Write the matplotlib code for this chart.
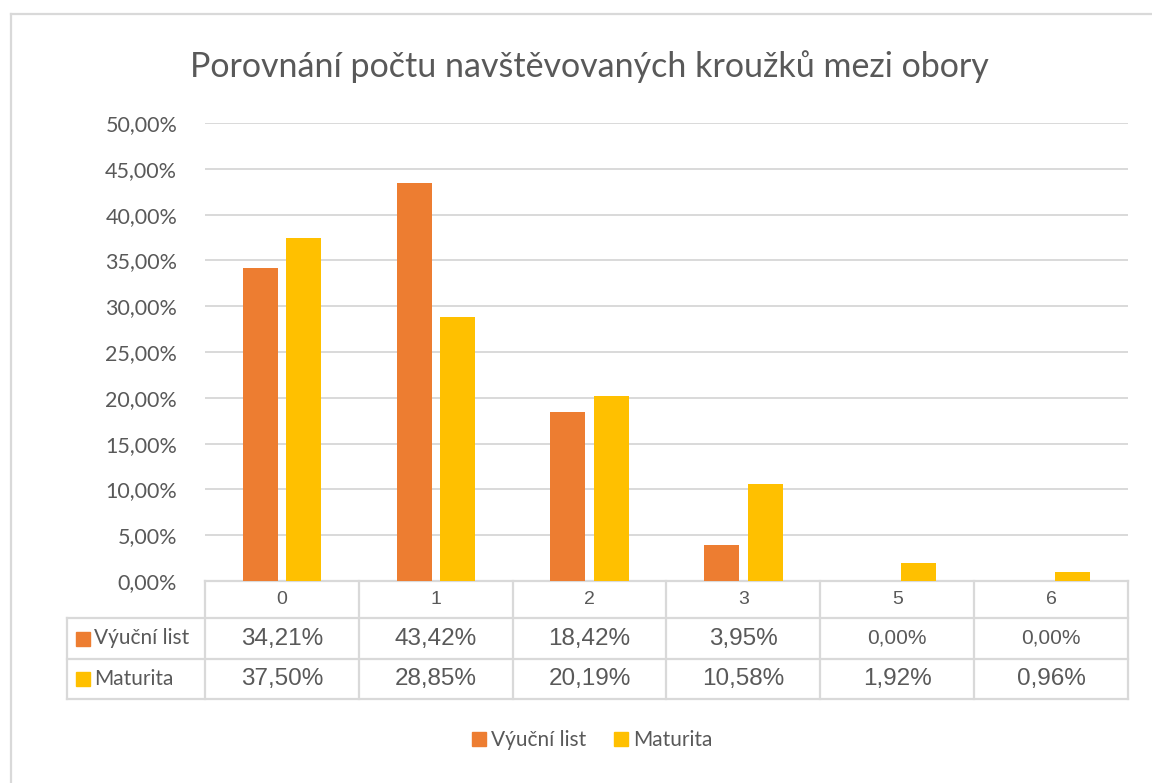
import matplotlib
matplotlib.use("Agg")
import matplotlib.pyplot as plt
from matplotlib.transforms import blended_transform_factory
from matplotlib.lines import Line2D

# data
categories = ["0", "1", "2", "3", "5", "6"]
vyucni = [34.21, 43.42, 18.42, 3.95, 0.00, 0.00]
maturita = [37.50, 28.85, 20.19, 10.58, 1.92, 0.96]
series_names = ["Výuční list", "Maturita"]

orange = "#ED7D31"
yellow = "#FFC000"
grey_txt = "#595959"
grid_col = "#D9D9D9"

W, H = 1152, 783
fig = plt.figure(figsize=(W / 100, H / 100), dpi=100)

def fy(py):
    return 1 - py / H

# plot area in pixels: x 205..1128, y 123..581
ax = fig.add_axes([205 / W, fy(581), (1128 - 205) / W, (581 - 123) / H])

x = list(range(len(categories)))
bw = 0.227
off = 0.141
ax.bar([i - off for i in x], vyucni, width=bw, color=orange, zorder=3)
ax.bar([i + off for i in x], maturita, width=bw, color=yellow, zorder=3)

ax.set_xlim(-0.5, len(categories) - 0.5)
ax.set_ylim(0, 50)
yt = list(range(0, 55, 5))
ax.set_yticks(yt)
ax.set_yticklabels(["%d,00%%" % v for v in yt], fontname="Lato", fontsize=15.5, color=grey_txt)
ax.tick_params(axis="y", length=0, pad=20)
ax.set_xticks([])
for s in ax.spines.values():
    s.set_visible(False)
for v in yt[1:]:
    ax.axhline(v, color=grid_col, lw=1.4, zorder=1)

# data table below the axis
tr = blended_transform_factory(ax.transData, fig.transFigure)
px_per_unit = (1128 - 205) / len(categories)
left_edge = -0.5 - (205 - 67) / px_per_unit
right_edge = len(categories) - 0.5
rows_y = [581, 618, 659, 699]

line_kw = dict(color=grid_col, lw=1.6, transform=tr, clip_on=False, zorder=2)
ax.plot([-0.5, right_edge], [fy(581), fy(581)], **line_kw)
for yy in rows_y[1:]:
    ax.plot([left_edge, right_edge], [fy(yy), fy(yy)], **line_kw)
for i in range(len(categories) + 1):
    xv = i - 0.5
    ax.plot([xv, xv], [fy(581), fy(699)], **line_kw)
ax.plot([left_edge, left_edge], [fy(618), fy(699)], **line_kw)

for i, c in enumerate(categories):
    ax.text(i, fy(600), c, transform=tr, ha="center", va="center",
            fontname="Liberation Sans", fontsize=14, color=grey_txt)

for r, (vals, col, name) in enumerate([(vyucni, orange, series_names[0]),
                                        (maturita, yellow, series_names[1])]):
    yc = fy((rows_y[r + 1] + rows_y[r + 2]) / 2)
    ax.plot([left_edge + 16 / px_per_unit], [yc], marker="s", ms=10, color=col,
            transform=tr, clip_on=False)
    ax.text(left_edge + 27 / px_per_unit, yc, name, transform=tr, ha="left",
            va="center", fontname="Lato", fontsize=15, color=grey_txt)
    for i, v in enumerate(vals):
        fs = 15 if v == 0 else 17.5
        ax.text(i, yc, ("%.2f%%" % v).replace(".", ","), transform=tr,
                ha="center", va="center", fontname="Liberation Sans",
                fontsize=fs, color=grey_txt)

fig.text(589 / W, fy(67), "Porovnání počtu navštěvovaných kroužků mezi obory",
         ha="center", va="center", fontname="Lato", fontsize=24.5, color=grey_txt)

handles = [Line2D([], [], marker="s", ls="none", ms=10, color=orange),
           Line2D([], [], marker="s", ls="none", ms=10, color=yellow)]
fig.legend(handles, series_names, loc="center", bbox_to_anchor=(592 / W, fy(740)),
           ncol=2, frameon=False, prop={"family": "Lato", "size": 15},
           labelcolor=grey_txt, handlelength=0.7, handletextpad=0.25,
           columnspacing=1.3)

# outer chart border
fig.add_artist(Line2D([11 / W, 11 / W], [0, fy(14)], color=grid_col, lw=1.6))
fig.add_artist(Line2D([11 / W, 1], [fy(14), fy(14)], color=grid_col, lw=1.6))

fig.savefig("out.png", dpi=100)
